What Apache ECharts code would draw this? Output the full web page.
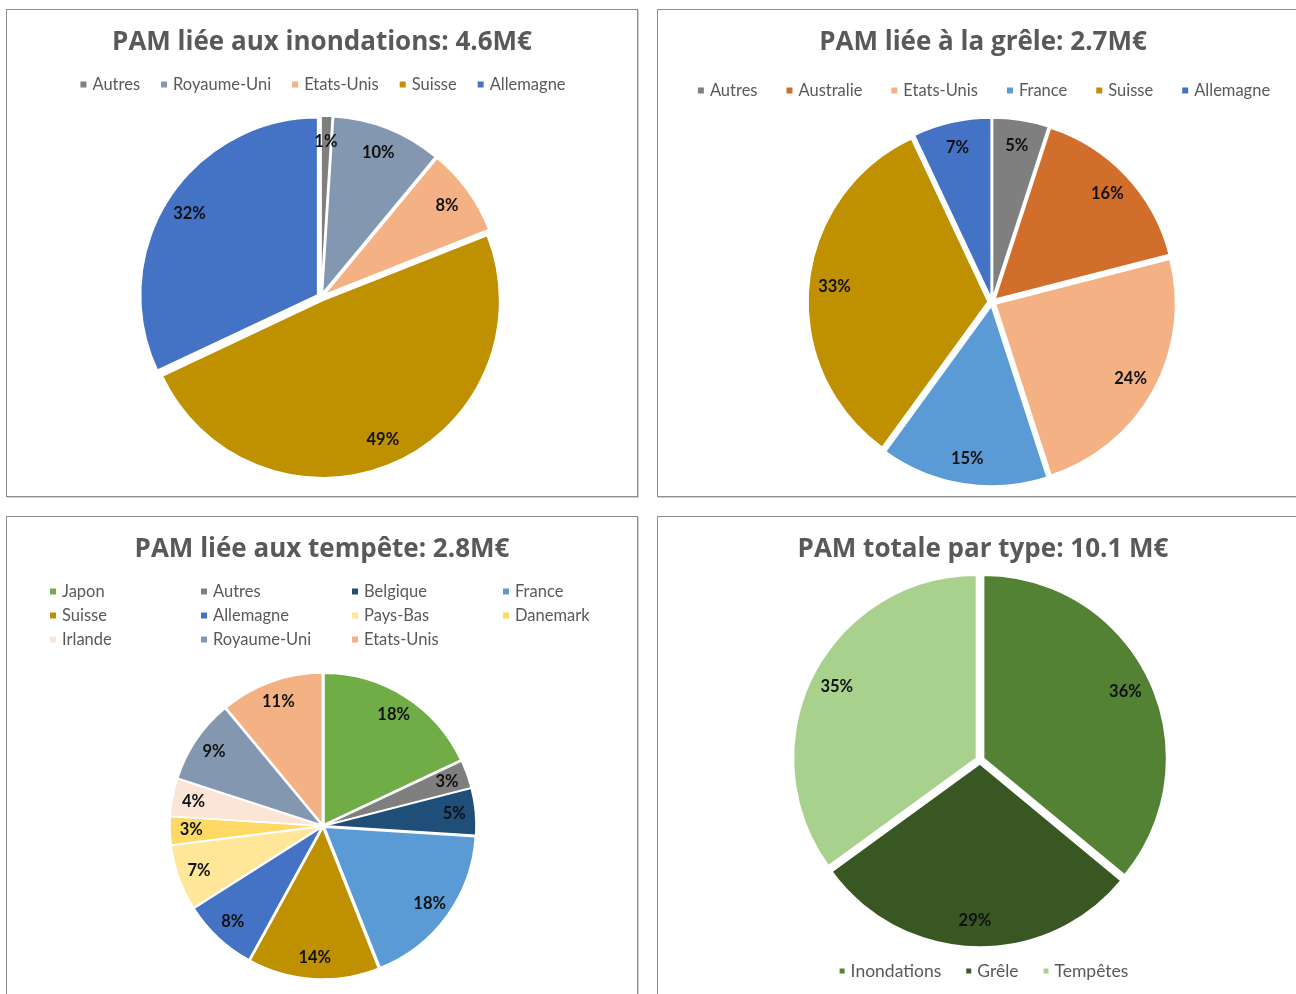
<!DOCTYPE html>
<html>
<head>
<meta charset="utf-8">
<script src="https://cdn.jsdelivr.net/npm/echarts@6/dist/echarts.min.js"></script>
<style>
  html, body { margin:0; padding:0; background:#ffffff; width:1296px; height:994px; overflow:hidden; }
  .panel { position:absolute; border:1px solid #8f8f8f; box-shadow:1px 1px 0 #cfcfcf; background:#fff; box-sizing:border-box; }
  .panel > div { width:100%; height:100%; }
</style>
</head>
<body>
<div class="panel" style="left:6px; top:9px; width:632px; height:488px;"><div id="c1"></div></div>
<div class="panel" style="left:657px; top:9px; width:652px; height:488px;"><div id="c2"></div></div>
<div class="panel" style="left:6px; top:516px; width:632px; height:500px;"><div id="c3"></div></div>
<div class="panel" style="left:657px; top:516px; width:652px; height:500px;"><div id="c4"></div></div>
<script>
// ---------------- DATA ----------------
const title1 = 'PAM liée aux inondations: 4.6M€';
const names1 = ['Autres', 'Royaume-Uni', 'Etats-Unis', 'Suisse', 'Allemagne'];
const values1 = [1, 10, 8, 49, 32];

const title2 = 'PAM liée à la grêle: 2.7M€';
const names2 = ['Autres', 'Australie', 'Etats-Unis', 'France', 'Suisse', 'Allemagne'];
const values2 = [5, 16, 24, 15, 33, 7];

const title3 = 'PAM liée aux tempête: 2.8M€';
const names3 = ['Japon', 'Autres', 'Belgique', 'France', 'Suisse', 'Allemagne', 'Pays-Bas', 'Danemark', 'Irlande', 'Royaume-Uni', 'Etats-Unis'];
const values3 = [18, 3, 5, 18, 14, 8, 7, 3, 4, 9, 11];

const title4 = 'PAM totale par type: 10.1 M€';
const names4 = ['Inondations', 'Grêle', 'Tempêtes'];
const values4 = [36, 29, 35];

// ---------------- STYLES ----------------
const colorMap = {
  'Autres': '#7f7f7f',
  'Royaume-Uni': '#8497b0',
  'Etats-Unis': '#f4b183',
  'Suisse': '#bf9000',
  'Allemagne': '#4472c4',
  'Australie': '#d26e2c',
  'France': '#5b9bd5',
  'Japon': '#70ad47',
  'Belgique': '#1f4e79',
  'Pays-Bas': '#ffe699',
  'Danemark': '#ffd966',
  'Irlande': '#fbe5d6',
  'Inondations': '#548235',
  'Grêle': '#385723',
  'Tempêtes': '#a9d18e'
};
const FONT = 'Lato';
const TITLE_FONT = 'Open Sans';
const TITLE_COLOR = '#595959';

function pieSeries(names, values, center, r, offset, border) {
  const main = names.map((n, i) => ({ name: n, value: values[i], selected: true,
    itemStyle: { color: colorMap[n] } }));
  const overlay = names.map((n, i) => ({ name: n, value: values[i], selected: true }));
  return [
    {
      type: 'pie', center: center, radius: [0, r], startAngle: 90, clockwise: true,
      selectedMode: 'multiple', selectedOffset: offset, silent: true, animation: false,
      itemStyle: { borderColor: '#ffffff', borderWidth: border },
      label: { show: false }, labelLine: { show: false },
      emphasis: { disabled: true },
      data: main
    },
    {
      type: 'pie', center: center, radius: [r * 0.68, r], startAngle: 90, clockwise: true,
      selectedMode: 'multiple', selectedOffset: offset, silent: true, animation: false,
      itemStyle: { color: 'rgba(0,0,0,0)', borderWidth: 0 },
      label: { show: true, position: 'inside', formatter: p => Math.round(p.percent) + '%',
        fontFamily: FONT, fontSize: 16.5, fontWeight: 'bold', color: '#111111' },
      labelLine: { show: false },
      emphasis: { disabled: true },
      data: overlay
    }
  ];
}

function titleOpt(text) {
  return { text: text, left: 'center', top: 15,
    textStyle: { fontFamily: TITLE_FONT, fontSize: 26, fontWeight: 'bold', color: TITLE_COLOR } };
}

const legendText = { fontFamily: FONT, fontSize: 16.5, color: TITLE_COLOR };

// Chart 1
const ch1 = echarts.init(document.getElementById('c1'));
ch1.setOption({
  animation: false,
  title: titleOpt(title1),
  legend: { data: names1, left: 'center', top: 61, icon: 'rect', itemWidth: 8, itemHeight: 8,
    itemGap: 19, textStyle: legendText, selectedMode: false },
  series: pieSeries(names1, values1, [314, 287], 177, 4, 1.5)
});

// Chart 2
const ch2 = echarts.init(document.getElementById('c2'));
ch2.setOption({
  animation: false,
  title: titleOpt(title2),
  legend: { data: names2, left: 'center', top: 67, icon: 'rect', itemWidth: 8, itemHeight: 8,
    itemGap: 27, textStyle: legendText, selectedMode: false },
  series: pieSeries(names2, values2, [334, 292], 180, 4, 1.5)
});

// Chart 3 : legend in a 4-column grid
const cols3 = [36, 187, 338, 489];
const rows3 = [61, 85, 109];
const legends3 = names3.map((n, i) => ({
  data: [n], left: cols3[i % 4], top: rows3[Math.floor(i / 4)], icon: 'rect',
  itemWidth: 8, itemHeight: 8, textStyle: legendText, selectedMode: false
}));
const ch3 = echarts.init(document.getElementById('c3'));
ch3.setOption({
  animation: false,
  title: titleOpt(title3),
  legend: legends3,
  series: pieSeries(names3, values3, [316, 309], 151, 2, 1.5)
});

// Chart 4
const ch4 = echarts.init(document.getElementById('c4'));
ch4.setOption({
  animation: false,
  title: titleOpt(title4),
  legend: { data: names4, left: 'center', top: 440, icon: 'rect', itemWidth: 7, itemHeight: 7,
    itemGap: 23, textStyle: Object.assign({}, legendText, { fontSize: 17.5 }), selectedMode: false },
  series: pieSeries(names4, values4, [322, 243], 183, 4, 1.5)
});
</script>
</body>
</html>
